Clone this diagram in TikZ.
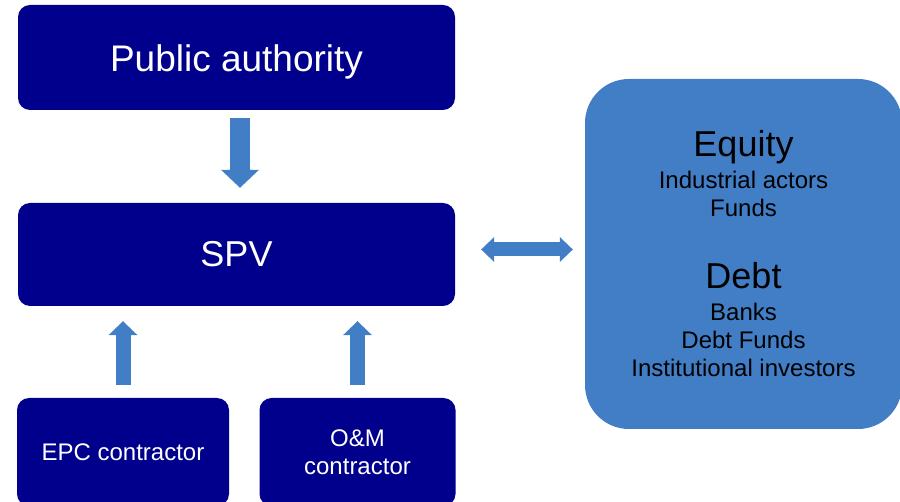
\documentclass[tikz,border=0pt]{standalone}
\usepackage{fontspec}
\setmainfont{Liberation Sans}
\usetikzlibrary{arrows.meta}
\definecolor{navy}{RGB}{0,0,140}
\definecolor{steel}{RGB}{66,126,198}
\tikzset{
  party/.style={rectangle, rounded corners=12pt, fill=navy, text=white, inner sep=0pt, align=center},
  finbox/.style={rectangle, rounded corners=44pt, fill=steel, text=black, inner sep=0pt, align=center},
  flow/.style={steel, line width=#1}
}
\begin{document}
\begin{tikzpicture}[x=1pt, y=-1pt]
    \useasboundingbox (0,0) rectangle (900,502);

    % Public side
    \node[party, minimum width=437pt, minimum height=105pt, text height=29pt, text depth=0pt,
          font=\fontsize{37}{44}\selectfont] (pa) at (236.5, 57.5) {Public authority};
    \node[party, minimum width=437pt, minimum height=103pt,
          font=\fontsize{36}{42}\selectfont] (spv) at (236.5, 254.5) {SPV};

    % Contractors
    \node[party, minimum width=212pt, minimum height=108pt,
          font=\fontsize{24}{28}\selectfont] (epc) at (123, 452) {EPC contractor};
    \node[party, minimum width=196pt, minimum height=108pt,
          font=\fontsize{24}{28}\selectfont] (om) at (357.5, 452) {O\&M\\contractor};

    % Financing
    \node[finbox, minimum width=317pt, minimum height=350pt,
          font=\fontsize{24}{28}\selectfont] (fin) at (743.5, 254)
        {{\fontsize{36}{40}\selectfont Equity}\\[4pt]
         Industrial actors\\
         Funds\\[44pt]
         {\fontsize{36}{40}\selectfont Debt}\\[4pt]
         Banks\\
         Debt Funds\\
         Institutional investors};

    % Flows
    \draw[flow=20pt, -{Triangle[length=18pt, width=38pt, line width=0pt]}, shorten <=8pt, shorten >=15pt]
        ([xshift=3.5pt]pa.south) -- ([xshift=3.5pt]pa.south |- spv.north);
    \draw[flow=15pt, -{Triangle[length=14pt, width=29pt, line width=0pt]}, shorten <=13pt, shorten >=15pt]
        (epc.north) -- (epc.north |- spv.south);
    \draw[flow=15pt, -{Triangle[length=14pt, width=29pt, line width=0pt]}, shorten <=13pt, shorten >=15pt]
        (om.north) -- (om.north |- spv.south);
    \draw[flow=14pt, {Triangle[length=13pt, width=25pt, line width=0pt]}-{Triangle[length=13pt, width=25pt, line width=0pt]},
          shorten <=26pt, shorten >=12pt]
        ([yshift=5pt]spv.east) -- ([yshift=5pt]spv.east -| fin.west);
\end{tikzpicture}
\end{document}
